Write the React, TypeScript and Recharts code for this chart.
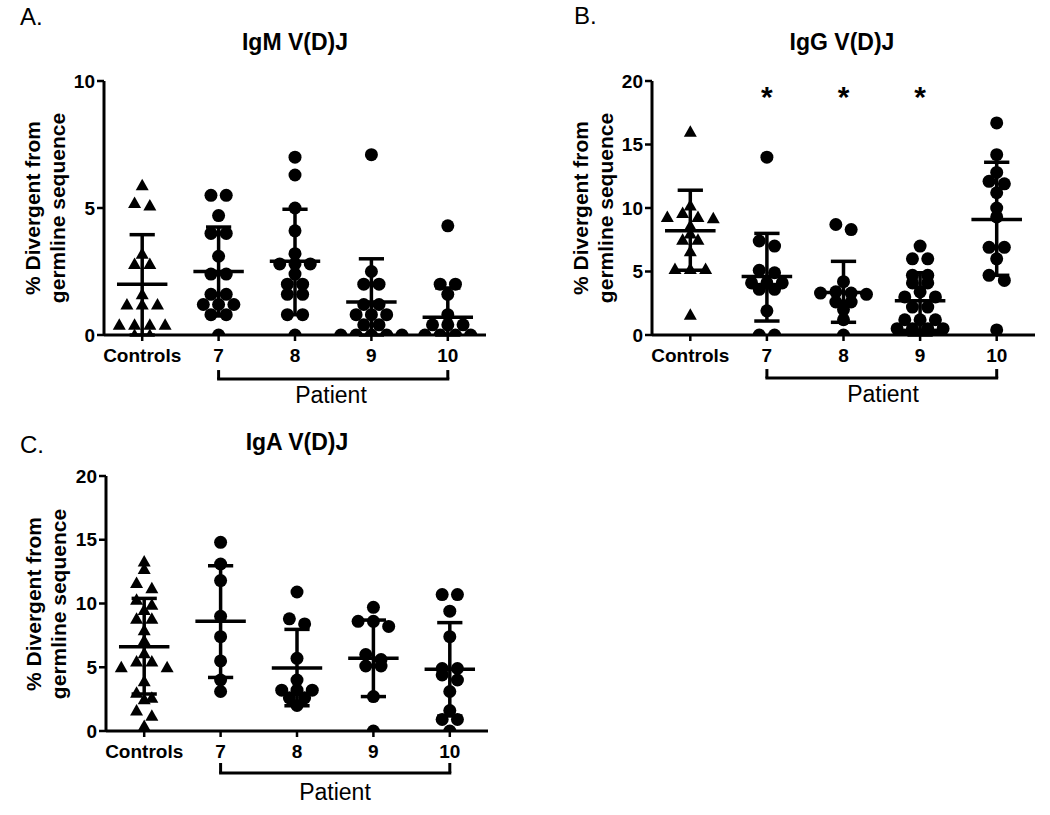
import React from 'react';
import { ScatterChart, Scatter, XAxis, YAxis, ReferenceLine } from 'recharts';

const groups = ['Controls', '7', '8', '9', '10'];

// IgM V(D)J - % divergent from germline
const igmControls = [5.9, 5.2, 5.1, 3.2, 2.8, 2.8, 1.6, 1.2, 1.2, 1.2, 0.4, 0.4, 0.4, 0.4, 0, 0];
const igmP7 = [5.5, 5.5, 4.7, 4.0, 4.0, 3.1, 2.4, 2.4, 1.6, 1.6, 1.2, 1.2, 1.2, 0.8, 0.8, 0];
const igmP8 = [7.0, 6.3, 5.0, 4.1, 3.2, 2.8, 2.8, 2.8, 2.4, 2.0, 2.0, 1.6, 1.6, 0.8, 0.8, 0];
const igmP9 = [7.1, 2.5, 2.0, 2.0, 1.2, 1.2, 0.8, 0.8, 0.8, 0.4, 0.4, 0, 0, 0, 0, 0];
const igmP10 = [4.3, 2.0, 2.0, 1.6, 0.8, 0.4, 0.4, 0.4, 0, 0, 0, 0];
const igmMedian = [2.0, 2.5, 2.9, 1.3, 0.7];
const igmLow = [0, 0.75, 0.8, 0, 0];
const igmHigh = [3.95, 4.25, 4.95, 3.0, 1.85];

// IgG V(D)J
const iggControls = [16.0, 10.2, 9.6, 9.3, 9.3, 9.2, 8.6, 8.0, 7.5, 7.5, 6.6, 5.2, 5.2, 5.2, 1.6];
const iggP7 = [14.0, 7.4, 7.0, 5.1, 4.9, 4.1, 4.1, 4.1, 3.6, 3.6, 1.9, 0, 0];
const iggP8 = [8.7, 8.3, 4.2, 3.4, 3.3, 3.3, 3.2, 2.6, 2.6, 2.0, 1.2, 0];
const iggP9 = [7.0, 6.0, 6.0, 4.7, 4.7, 4.1, 4.1, 3.4, 3.0, 3.0, 2.2, 2.2, 1.2, 1.2, 1.2, 0.5, 0.5, 0.5, 0.5, 0, 0, 0];
const iggP10 = [16.7, 14.2, 12.8, 12.1, 11.9, 11.2, 10.0, 9.3, 6.9, 6.9, 6.0, 4.7, 4.3, 0.4];
const iggMedian = [8.2, 4.6, 3.35, 2.7, 9.1];
const iggLow = [5.1, 1.1, 1.0, 0, 4.7];
const iggHigh = [11.4, 8.0, 5.8, 4.9, 13.6];
const iggStarGroups = [1, 2, 3];
const iggStarLevel = 19.3;

// IgA V(D)J
const igaControls = [13.3, 12.7, 11.6, 11.2, 10.3, 9.9, 9.5, 8.8, 8.8, 7.9, 7.1, 6.1, 5.45, 5.45, 5.0, 5.0, 3.9, 3.0, 2.6, 2.5, 1.6, 1.2, 0.4];
const igaP7 = [14.8, 13.1, 11.8, 9.0, 7.4, 5.5, 4.0, 3.1];
const igaP8 = [10.9, 8.8, 8.4, 5.7, 4.0, 3.2, 3.2, 3.2, 2.6, 2.6, 2.0];
const igaP9 = [9.7, 8.6, 8.6, 8.2, 6.0, 5.6, 5.1, 5.1, 2.7, 0];
const igaP10 = [10.7, 10.7, 9.4, 7.4, 4.9, 4.9, 4.4, 4.0, 3.1, 1.6, 0.9, 0.9, 0];
const igaMedian = [6.6, 8.6, 4.94, 5.7, 4.84];
const igaLow = [2.9, 4.2, 1.98, 2.7, 1.18];
const igaHigh = [10.4, 12.96, 7.97, 8.7, 8.5];

const ticks10 = [0, 5, 10];
const ticks20 = [0, 5, 10, 15, 20];

const FONT = '"Liberation Sans", Arial, sans-serif';

// place equal-ish values side by side in rows, like a scatter dot plot
function spread(values: number[], center: number, tol: number, step = 0.2) {
  const sorted = [...values].sort((a, b) => b - a);
  const rows: number[][] = [];
  for (const v of sorted) {
    const row = rows[rows.length - 1];
    if (row && row[0] - v <= tol + 1e-9) row.push(v);
    else rows.push([v]);
  }
  const pts: { x: number; y: number }[] = [];
  rows.forEach((row) => {
    const n = row.length;
    const slots = Array.from({ length: n }, (_, k) => (k - (n - 1) / 2) * step).sort(
      (a, b) => Math.abs(a) - Math.abs(b) || a - b
    );
    row.forEach((v, k) => pts.push({ x: center + slots[k], y: v }));
  });
  return pts;
}

const Circle = (p: any) => <circle cx={p.cx} cy={p.cy} r={6.5} fill="#000" />;
const Triangle = (p: any) => (
  <polygon
    points={`${p.cx},${p.cy - 6.5} ${p.cx + 6.5},${p.cy + 5} ${p.cx - 6.5},${p.cy + 5}`}
    fill="#000"
  />
);
const Star = (p: any) => (
  <text x={p.cx} y={p.cy + 17} textAnchor="middle" fontSize={30} fontWeight={700} fontFamily={FONT} fill="#000">
    *
  </text>
);

interface PanelProps {
  width: number;
  height: number;
  margin: { top: number; right: number; bottom: number; left: number };
  yMax: number;
  yTicks: number[];
  controls: number[];
  patients: number[][];
  median: number[];
  low: number[];
  high: number[];
  tol: number;
  bracketY: number;
  bracketTop: number;
  stars?: number[];
  starLevel?: number;
}

function DotPanel(props: PanelProps) {
  const { width, height, margin, yMax, yTicks, controls, patients, median, low, high, tol, bracketY, bracketTop } = props;
  const ctrlPts = spread(controls, 0, tol);
  const patPts = patients.flatMap((vals, i) => spread(vals, i + 1, tol));
  const starPts = (props.stars || []).map((g) => ({ x: g, y: props.starLevel }));
  const line = { stroke: '#000', strokeWidth: 3.5, ifOverflow: 'visible' as const };

  return (
    <ScatterChart width={width} height={height} margin={margin}>
      <XAxis
        type="number"
        dataKey="x"
        domain={[-0.5, 4.5]}
        ticks={[0, 1, 2, 3, 4]}
        interval={0}
        allowDataOverflow
        tickFormatter={(v) => groups[v]}
        height={30}
        axisLine={{ stroke: '#000', strokeWidth: 3 }}
        tickLine={{ stroke: '#000', strokeWidth: 2.5 }}
        tickSize={6}
        tickMargin={8}
        tick={{ fill: '#000', fontSize: 19, fontWeight: 700, fontFamily: FONT }}
      />
      <YAxis
        type="number"
        dataKey="y"
        domain={[0, yMax]}
        ticks={yTicks}
        interval={0}
        allowDataOverflow
        width={50}
        axisLine={{ stroke: '#000', strokeWidth: 3 }}
        tickLine={{ stroke: '#000', strokeWidth: 2.5 }}
        tickSize={7}
        tickMargin={2}
        tick={{ fill: '#000', fontSize: 19, fontWeight: 700, fontFamily: FONT }}
      />
      <Scatter data={ctrlPts} shape={Triangle} isAnimationActive={false} />
      <Scatter data={patPts} shape={Circle} isAnimationActive={false} />
      {starPts.length > 0 && <Scatter data={starPts} shape={Star} isAnimationActive={false} />}
      {median.map((m, i) => (
        <ReferenceLine key={`m${i}`} segment={[{ x: i - 0.33, y: m }, { x: i + 0.33, y: m }]} {...line} />
      ))}
      {median.map((_, i) => (
        <ReferenceLine key={`v${i}`} segment={[{ x: i, y: low[i] }, { x: i, y: high[i] }]} {...line} />
      ))}
      {high.map((h, i) => (
        <ReferenceLine key={`h${i}`} segment={[{ x: i - 0.165, y: h }, { x: i + 0.165, y: h }]} {...line} />
      ))}
      {low.map((l, i) => (
        <ReferenceLine key={`l${i}`} segment={[{ x: i - 0.165, y: l }, { x: i + 0.165, y: l }]} {...line} />
      ))}
      {/* Patient bracket under groups 7-10 */}
      <ReferenceLine segment={[{ x: 1, y: bracketY }, { x: 4, y: bracketY }]} {...line} strokeWidth={3} strokeLinecap="square" />
      <ReferenceLine segment={[{ x: 1, y: bracketY }, { x: 1, y: bracketTop }]} {...line} strokeWidth={3} />
      <ReferenceLine segment={[{ x: 4, y: bracketY }, { x: 4, y: bracketTop }]} {...line} strokeWidth={3} />
    </ScatterChart>
  );
}

function YLabel({ x1, x2, cy }: { x1: number; x2: number; cy: number }) {
  const st = { fontFamily: FONT, fontSize: 21, fontWeight: 700, fill: '#000' };
  return (
    <g>
      <text transform={`translate(${x1},${cy}) rotate(-90)`} textAnchor="middle" {...st}>
        % Divergent from
      </text>
      <text transform={`translate(${x2},${cy}) rotate(-90)`} textAnchor="middle" {...st}>
        germline sequence
      </text>
    </g>
  );
}

export default function App() {
  const title = { fontFamily: FONT, fontSize: 23, fontWeight: 700, fill: '#000', textAnchor: 'middle' as const };
  const letter = { fontFamily: FONT, fontSize: 24, fill: '#000' };
  const patient = { fontFamily: FONT, fontSize: 23, fill: '#000', textAnchor: 'middle' as const };

  return (
    <div style={{ position: 'absolute', left: 0, top: 0, width: 1050, height: 815, background: '#fff' }}>
      <div style={{ position: 'absolute', left: 0, top: 0 }}>
        <DotPanel
          width={500}
          height={400}
          margin={{ top: 81, right: 14, bottom: 35, left: 54 }}
          yMax={10}
          yTicks={ticks10}
          controls={igmControls}
          patients={[igmP7, igmP8, igmP9, igmP10]}
          median={igmMedian}
          low={igmLow}
          high={igmHigh}
          tol={0.25}
          bracketY={-1.73}
          bracketTop={-1.38}
        />
      </div>
      <div style={{ position: 'absolute', left: 520, top: 0 }}>
        <DotPanel
          width={530}
          height={400}
          margin={{ top: 81, right: 15, bottom: 35, left: 82 }}
          yMax={20}
          yTicks={ticks20}
          controls={iggControls}
          patients={[iggP7, iggP8, iggP9, iggP10]}
          median={iggMedian}
          low={iggLow}
          high={iggHigh}
          tol={0.45}
          bracketY={-3.39}
          bracketTop={-2.68}
          stars={iggStarGroups}
          starLevel={iggStarLevel}
        />
      </div>
      <div style={{ position: 'absolute', left: 0, top: 400 }}>
        <DotPanel
          width={500}
          height={415}
          margin={{ top: 76, right: 12, bottom: 54, left: 56 }}
          yMax={20}
          yTicks={ticks20}
          controls={igaControls}
          patients={[igaP7, igaP8, igaP9, igaP10]}
          median={igaMedian}
          low={igaLow}
          high={igaHigh}
          tol={0.45}
          bracketY={-3.29}
          bracketTop={-2.51}
        />
      </div>
      <svg
        width={1050}
        height={815}
        style={{ position: 'absolute', left: 0, top: 0, pointerEvents: 'none' }}
      >
        <text x={20} y={25} {...letter}>A.</text>
        <text x={574} y={24} {...letter}>B.</text>
        <text x={20} y={453} {...letter}>C.</text>

        <text x={295} y={50} {...title}>IgM V(D)J</text>
        <text x={842} y={50} {...title}>IgG V(D)J</text>
        <text x={297} y={450} {...title}>IgA V(D)J</text>

        <YLabel x1={40} x2={65} cy={208} />
        <YLabel x1={588} x2={613} cy={208} />
        <YLabel x1={41} x2={66} cy={604} />

        <text x={331} y={403} {...patient}>Patient</text>
        <text x={883} y={402} {...patient}>Patient</text>
        <text x={335} y={800} {...patient}>Patient</text>
      </svg>
    </div>
  );
}
